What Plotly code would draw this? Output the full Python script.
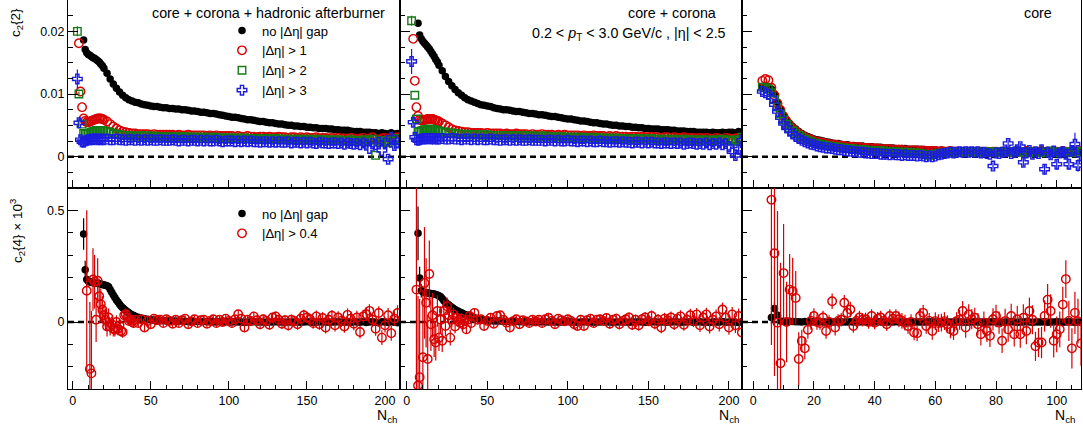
import plotly.graph_objects as go

W, H = 1083, 427
def px(x): return x / W
def py(y): return 1 - y / H

# ---------------- data ----------------
# N_ch bins: dense at low multiplicity, every 2nd bin above 20
N_top = list(range(3, 21)) + list(range(22, 209, 2))
N_core = list(range(3, 109))
N_bot = list(range(5, 41)) + list(range(42, 209, 2))
N_core4 = list(range(5, 109))

# ---- c2{2}: core + corona + hadronic afterburner ----
ab_nogap = [None, None, None, None, 0.0186, 0.0171, 0.0166, 0.0163, 0.0162, 0.0160, 0.0158, 0.0157, 0.0155, 0.0153, 0.0151, 0.0148, 0.0145, 0.0141,
            0.0133, 0.0124, 0.0116, 0.0109, 0.0103, 0.0098, 0.0094, 0.0091, 0.0089, 0.0087,
            0.0086, 0.0084, 0.0083, 0.0082, 0.0081, 0.0080, 0.0080, 0.0079, 0.0078, 0.0078,
            0.0077, 0.0077, 0.0076, 0.0076, 0.0075, 0.0075, 0.0074, 0.0073, 0.0073, 0.0072,
            0.0071, 0.0071, 0.0070, 0.0069, 0.0069, 0.0068, 0.0067, 0.0066, 0.0065, 0.0064,
            0.0063, 0.0063, 0.0062, 0.0061, 0.0060, 0.0059, 0.0059, 0.0058, 0.0057, 0.0056,
            0.0056, 0.0055, 0.0054, 0.0054, 0.0053, 0.0052, 0.0052, 0.0051, 0.0050, 0.0050,
            0.0049, 0.0049, 0.0048, 0.0048, 0.0047, 0.0047, 0.0046, 0.0046, 0.0045, 0.0045,
            0.0045, 0.0044, 0.0044, 0.0043, 0.0043, 0.0042, 0.0042, 0.0042, 0.0041, 0.0040,
            0.0040, 0.0040, 0.0039, 0.0039, 0.0039, 0.0038, 0.0038, 0.0037, 0.0038, 0.0037,
            0.0036, 0.0038, 0.0036, 0.0037]
ab_eta1 = [None, 0.0181, 0.0104, 0.0079, 0.0061, 0.0057, 0.0055, 0.0055, 0.0056, 0.0057, 0.0058, 0.0059, 0.0060, 0.0061, 0.0061, 0.0061, 0.0060, 0.0059,
           0.0056, 0.0052, 0.0048, 0.0045, 0.0042, 0.0040, 0.0039, 0.0038, 0.0037, 0.0037,
           0.0036, 0.0036, 0.0036, 0.0036, 0.0035, 0.0036, 0.0035, 0.0035, 0.0035, 0.0035,
           0.0035, 0.0035, 0.0034, 0.0035, 0.0034, 0.0034, 0.0035, 0.0034, 0.0034, 0.0034,
           0.0034, 0.0034, 0.0033, 0.0034, 0.0033, 0.0034, 0.0033, 0.0033, 0.0033, 0.0033,
           0.0033, 0.0032, 0.0033, 0.0032, 0.0032, 0.0033, 0.0032, 0.0032, 0.0031, 0.0032,
           0.0032, 0.0031, 0.0032, 0.0031, 0.0031, 0.0032, 0.0031, 0.0031, 0.0030, 0.0031,
           0.0031, 0.0030, 0.0031, 0.0030, 0.0031, 0.0030, 0.0030, 0.0031, 0.0029, 0.0030,
           0.0030, 0.0029, 0.0030, 0.0029, 0.0030, 0.0029, 0.0029, 0.0028, 0.0030, 0.0029,
           0.0028, 0.0029, 0.0030, 0.0027, 0.0029, 0.0031, 0.0028, 0.0027, 0.0029, 0.0030,
           0.0026, 0.0030, 0.0028, 0.0031]
ab_eta2 = [0.0200, 0.0100, None, 0.0052, 0.0037, 0.0036, 0.0036, 0.0037, 0.0038, 0.0039, 0.0040, 0.0041, 0.0042, 0.0042, 0.0042, 0.0042, 0.0041, 0.0041,
           0.0040, 0.0039, 0.0037, 0.0036, 0.0035, 0.0034, 0.0034, 0.0034, 0.0033, 0.0033,
           0.0033, 0.0033, 0.0033, 0.0033, 0.0032, 0.0033, 0.0032, 0.0032, 0.0032, 0.0032,
           0.0032, 0.0032, 0.0031, 0.0032, 0.0031, 0.0032, 0.0031, 0.0031, 0.0031, 0.0031,
           0.0031, 0.0031, 0.0030, 0.0031, 0.0030, 0.0031, 0.0030, 0.0030, 0.0030, 0.0030,
           0.0030, 0.0029, 0.0030, 0.0029, 0.0030, 0.0029, 0.0029, 0.0029, 0.0028, 0.0029,
           0.0029, 0.0028, 0.0029, 0.0028, 0.0029, 0.0028, 0.0028, 0.0028, 0.0027, 0.0028,
           0.0028, 0.0027, 0.0028, 0.0027, 0.0028, 0.0027, 0.0027, 0.0028, 0.0026, 0.0027,
           0.0027, 0.0026, 0.0027, 0.0026, 0.0027, 0.0026, 0.0026, 0.0025, 0.0027, 0.0026,
           0.0025, 0.0026, 0.0027, 0.0024, 0.0026, 0.0028, 0.0002, 0.0023, 0.0026, 0.0024,
           0.0022, 0.0027, 0.0025, 0.0029]
ab_eta3 = [0.0124, 0.0054, 0.0027, 0.0024, 0.0023, 0.0025, 0.0026, 0.0027, 0.0027, 0.0028, 0.0027, 0.0028, 0.0028, 0.0027, 0.0028, 0.0027, 0.0028, 0.0027,
           0.0028, 0.0027, 0.0027, 0.0028, 0.0027, 0.0027, 0.0026, 0.0027, 0.0027, 0.0026,
           0.0027, 0.0026, 0.0027, 0.0026, 0.0027, 0.0026, 0.0026, 0.0027, 0.0026, 0.0026,
           0.0026, 0.0027, 0.0026, 0.0025, 0.0026, 0.0026, 0.0025, 0.0026, 0.0026, 0.0025,
           0.0026, 0.0025, 0.0026, 0.0025, 0.0025, 0.0026, 0.0025, 0.0024, 0.0025, 0.0025,
           0.0025, 0.0024, 0.0025, 0.0024, 0.0025, 0.0024, 0.0025, 0.0024, 0.0024, 0.0023,
           0.0024, 0.0024, 0.0023, 0.0024, 0.0023, 0.0024, 0.0023, 0.0023, 0.0024, 0.0022,
           0.0023, 0.0023, 0.0022, 0.0023, 0.0022, 0.0023, 0.0022, 0.0021, 0.0023, 0.0022,
           0.0022, 0.0021, 0.0022, 0.0022, 0.0021, 0.0022, 0.0020, 0.0022, 0.0021, 0.0020,
           0.0021, 0.0019, 0.0022, 0.0020, 0.0013, 0.0021, 0.0019, 0.0023, 0.0010, 0.0022,
           -0.0004, 0.0031, 0.0018, 0.0022]
ab_eta2_err = {3: 0.0008, 4: 0.0004}
ab_eta3_err = {3: 0.0015, 4: 0.0006, 202: 0.0005, 204: 0.0005, 206: 0.0006}

# ---- c2{2}: core + corona ----
cc_nogap = [None, None, None, None, 0.0213, 0.0194, 0.0188, 0.0184, 0.0181, 0.0178, 0.0175, 0.0172, 0.0168, 0.0164, 0.0160, 0.0155, 0.0151, 0.0146,
            0.0137, 0.0128, 0.0120, 0.0113, 0.0107, 0.0102, 0.0098, 0.0094, 0.0091, 0.0089,
            0.0087, 0.0085, 0.0083, 0.0082, 0.0081, 0.0080, 0.0078, 0.0077, 0.0076, 0.0075,
            0.0075, 0.0074, 0.0073, 0.0072, 0.0072, 0.0071, 0.0070, 0.0069, 0.0069, 0.0068,
            0.0067, 0.0067, 0.0066, 0.0065, 0.0064, 0.0064, 0.0063, 0.0062, 0.0061, 0.0060,
            0.0060, 0.0059, 0.0058, 0.0057, 0.0057, 0.0056, 0.0055, 0.0054, 0.0054, 0.0053,
            0.0052, 0.0052, 0.0051, 0.0050, 0.0050, 0.0049, 0.0049, 0.0048, 0.0048, 0.0047,
            0.0047, 0.0046, 0.0046, 0.0045, 0.0045, 0.0044, 0.0044, 0.0044, 0.0043, 0.0043,
            0.0043, 0.0042, 0.0042, 0.0041, 0.0041, 0.0041, 0.0040, 0.0040, 0.0040, 0.0039,
            0.0039, 0.0039, 0.0039, 0.0038, 0.0039, 0.0038, 0.0038, 0.0039, 0.0038, 0.0039,
            0.0039, 0.0038, 0.0040, 0.0039]
cc_eta1 = [None, 0.0188, 0.0121, 0.0079, 0.0065, 0.0059, 0.0058, 0.0058, 0.0059, 0.0059, 0.0060, 0.0060, 0.0060, 0.0060, 0.0059, 0.0058, 0.0057, 0.0056,
           0.0053, 0.0050, 0.0047, 0.0044, 0.0042, 0.0041, 0.0040, 0.0039, 0.0039, 0.0038,
           0.0038, 0.0038, 0.0038, 0.0037, 0.0038, 0.0037, 0.0037, 0.0037, 0.0037, 0.0036,
           0.0037, 0.0036, 0.0036, 0.0037, 0.0036, 0.0036, 0.0036, 0.0035, 0.0036, 0.0035,
           0.0035, 0.0036, 0.0035, 0.0035, 0.0035, 0.0034, 0.0035, 0.0034, 0.0035, 0.0034,
           0.0034, 0.0034, 0.0034, 0.0033, 0.0034, 0.0033, 0.0033, 0.0034, 0.0033, 0.0033,
           0.0033, 0.0032, 0.0033, 0.0032, 0.0033, 0.0032, 0.0032, 0.0032, 0.0031, 0.0032,
           0.0032, 0.0031, 0.0032, 0.0031, 0.0031, 0.0032, 0.0031, 0.0031, 0.0030, 0.0031,
           0.0031, 0.0030, 0.0031, 0.0030, 0.0030, 0.0031, 0.0029, 0.0030, 0.0030, 0.0029,
           0.0030, 0.0029, 0.0030, 0.0029, 0.0028, 0.0030, 0.0029, 0.0028, 0.0030, 0.0029,
           0.0028, 0.0029, 0.0030, 0.0027]
cc_eta2 = [0.0217, None, 0.0098, 0.0060, 0.0040, 0.0040, 0.0041, 0.0042, 0.0043, 0.0043, 0.0044, 0.0044, 0.0044, 0.0043, 0.0043, 0.0042, 0.0042, 0.0041,
           0.0040, 0.0039, 0.0038, 0.0038, 0.0037, 0.0036, 0.0036, 0.0036, 0.0035, 0.0035,
           0.0035, 0.0035, 0.0035, 0.0034, 0.0035, 0.0034, 0.0034, 0.0034, 0.0034, 0.0034,
           0.0034, 0.0033, 0.0034, 0.0033, 0.0033, 0.0034, 0.0033, 0.0033, 0.0033, 0.0032,
           0.0033, 0.0032, 0.0033, 0.0032, 0.0032, 0.0032, 0.0031, 0.0032, 0.0031, 0.0031,
           0.0031, 0.0031, 0.0031, 0.0030, 0.0031, 0.0030, 0.0030, 0.0031, 0.0030, 0.0030,
           0.0030, 0.0029, 0.0030, 0.0029, 0.0030, 0.0029, 0.0029, 0.0029, 0.0028, 0.0029,
           0.0029, 0.0028, 0.0029, 0.0028, 0.0028, 0.0029, 0.0028, 0.0028, 0.0027, 0.0028,
           0.0028, 0.0027, 0.0028, 0.0027, 0.0027, 0.0028, 0.0026, 0.0027, 0.0027, 0.0026,
           0.0027, 0.0026, 0.0027, 0.0026, 0.0025, 0.0027, 0.0026, 0.0028, 0.0027, 0.0026,
           0.0025, 0.0027, 0.0024, 0.0031]
cc_eta3 = [0.0152, 0.0055, 0.0031, 0.0027, 0.0026, 0.0027, 0.0028, 0.0028, 0.0029, 0.0028, 0.0029, 0.0029, 0.0028, 0.0029, 0.0028, 0.0029, 0.0028, 0.0028,
           0.0029, 0.0028, 0.0028, 0.0029, 0.0028, 0.0028, 0.0027, 0.0028, 0.0028, 0.0027,
           0.0028, 0.0027, 0.0028, 0.0027, 0.0027, 0.0028, 0.0027, 0.0027, 0.0026, 0.0027,
           0.0027, 0.0026, 0.0027, 0.0026, 0.0027, 0.0026, 0.0026, 0.0027, 0.0026, 0.0026,
           0.0026, 0.0026, 0.0025, 0.0026, 0.0026, 0.0025, 0.0026, 0.0025, 0.0025, 0.0026,
           0.0025, 0.0025, 0.0024, 0.0025, 0.0025, 0.0024, 0.0025, 0.0024, 0.0024, 0.0025,
           0.0024, 0.0024, 0.0023, 0.0024, 0.0024, 0.0023, 0.0024, 0.0023, 0.0023, 0.0022,
           0.0023, 0.0023, 0.0022, 0.0023, 0.0022, 0.0023, 0.0022, 0.0022, 0.0021, 0.0022,
           0.0022, 0.0021, 0.0022, 0.0021, 0.0022, 0.0020, 0.0021, 0.0022, 0.0021, 0.0020,
           0.0021, 0.0020, 0.0022, 0.0019, 0.0021, 0.0020, 0.0022, 0.0019, 0.0021, 0.0016,
           0.0008, 0.0002, 0.0012, 0.0026]
cc_eta2_err = {3: 0.0008}
cc_eta3_err = {3: 0.0020, 4: 0.0007, 204: 0.0006, 206: 0.0006}

# ---- c2{2}: core ----
co_nogap = [0.0112, 0.0113, 0.0112, 0.0108, 0.0100, 0.0087, 0.0076, 0.0066, 0.0059, 0.0053,
            0.0048, 0.0044, 0.0040, 0.0037, 0.0034, 0.0032, 0.0030, 0.0028, 0.0027, 0.0026,
            0.0025, 0.0024, 0.0023, 0.0022, 0.0021, 0.0021, 0.0020, 0.0019, 0.0019, 0.0018,
            0.0018, 0.0017, 0.0017, 0.0017, 0.0016, 0.0016, 0.0016, 0.0015, 0.0015, 0.0015,
            0.0014, 0.0014, 0.0014, 0.0014, 0.0013, 0.0013, 0.0013, 0.0013, 0.0012, 0.0012,
            0.0012, 0.0012, 0.0012, 0.0011, 0.0011, 0.0011, 0.0011, 0.0011, 0.0010, 0.0010,
            0.0010, 0.0010, 0.0010, 0.0010, 0.0009, 0.0010, 0.0009, 0.0009, 0.0009, 0.0009,
            0.0009, 0.0009, 0.0009, 0.0008, 0.0009, 0.0008, 0.0009, 0.0008, 0.0008, 0.0009,
            0.0008, 0.0009, 0.0008, 0.0008, 0.0009, 0.0008, 0.0009, 0.0008, 0.0009, 0.0008,
            0.0009, 0.0008, 0.0009, 0.0008, 0.0009, 0.0009, 0.0008, 0.0009, 0.0008, 0.0009,
            0.0009, 0.0008, 0.0010, 0.0008, 0.0009, 0.0008]
co_eta1 = [0.0121, 0.0124, 0.0122, 0.0110, 0.0098, 0.0085, 0.0074, 0.0064, 0.0056, 0.0050,
           0.0045, 0.0041, 0.0037, 0.0034, 0.0031, 0.0029, 0.0027, 0.0025, 0.0024, 0.0023,
           0.0022, 0.0021, 0.0020, 0.0019, 0.0019, 0.0018, 0.0017, 0.0017, 0.0016, 0.0016,
           0.0015, 0.0015, 0.0015, 0.0014, 0.0014, 0.0014, 0.0013, 0.0013, 0.0013, 0.0012,
           0.0012, 0.0012, 0.0012, 0.0011, 0.0011, 0.0011, 0.0011, 0.0010, 0.0010, 0.0010,
           0.0010, 0.0010, 0.0009, 0.0010, 0.0009, 0.0009, 0.0009, 0.0009, 0.0008, 0.0009,
           0.0008, 0.0008, 0.0009, 0.0008, 0.0008, 0.0008, 0.0007, 0.0008, 0.0008, 0.0008,
           0.0007, 0.0008, 0.0008, 0.0007, 0.0008, 0.0007, 0.0008, 0.0008, 0.0007, 0.0008,
           0.0007, 0.0008, 0.0007, 0.0008, 0.0007, 0.0008, 0.0007, 0.0009, 0.0007, 0.0008,
           0.0007, 0.0008, 0.0009, 0.0007, 0.0008, 0.0007, 0.0009, 0.0008, 0.0007, 0.0009,
           0.0008, 0.0007, 0.0009, 0.0008, 0.0007, 0.0009]
co_eta2 = [0.0111, 0.0110, 0.0108, 0.0102, 0.0091, 0.0079, 0.0068, 0.0059, 0.0052, 0.0046,
           0.0041, 0.0037, 0.0034, 0.0031, 0.0028, 0.0026, 0.0024, 0.0022, 0.0021, 0.0020,
           0.0019, 0.0018, 0.0017, 0.0016, 0.0016, 0.0015, 0.0014, 0.0014, 0.0013, 0.0013,
           0.0012, 0.0012, 0.0011, 0.0011, 0.0011, 0.0010, 0.0010, 0.0010, 0.0009, 0.0009,
           0.0009, 0.0008, 0.0008, 0.0008, 0.0008, 0.0007, 0.0007, 0.0007, 0.0007, 0.0006,
           0.0006, 0.0006, 0.0005, 0.0004, 0.0003, 0.0002, 0.0003, 0.0004, 0.0005, 0.0006,
           0.0006, 0.0007, 0.0007, 0.0007, 0.0008, 0.0007, 0.0008, 0.0008, 0.0007, 0.0008,
           0.0008, 0.0007, 0.0008, 0.0007, 0.0008, 0.0007, 0.0008, 0.0007, 0.0008, 0.0007,
           0.0008, 0.0007, 0.0008, 0.0007, 0.0009, 0.0007, 0.0008, 0.0007, 0.0008, 0.0006,
           0.0008, 0.0007, 0.0006, 0.0008, 0.0007, 0.0009, 0.0007, 0.0008, 0.0006, 0.0008,
           0.0007, 0.0008, 0.0006, 0.0009, 0.0007, 0.0008]
co_eta3 = [0.0104, 0.0102, 0.0100, 0.0094, 0.0083, 0.0072, 0.0062, 0.0053, 0.0046, 0.0041,
           0.0036, 0.0032, 0.0029, 0.0026, 0.0024, 0.0022, 0.0020, 0.0019, 0.0017, 0.0016,
           0.0015, 0.0014, 0.0014, 0.0013, 0.0012, 0.0011, 0.0011, 0.0010, 0.0009, 0.0009,
           0.0008, 0.0008, 0.0007, 0.0007, 0.0006, 0.0006, 0.0005, 0.0005, 0.0005, 0.0004,
           0.0004, 0.0004, 0.0003, 0.0004, 0.0003, 0.0003, 0.0002, 0.0003, 0.0002, 0.0002,
           0.0002, 0.0001, 0.0002, 0.0001, 0.0000, 0.0001, 0.0000, 0.0001, 0.0003, 0.0004,
           0.0005, 0.0006, 0.0007, 0.0006, 0.0007, 0.0008, 0.0007, 0.0008, 0.0007, 0.0008,
           0.0007, 0.0008, 0.0006, 0.0007, 0.0005, 0.0004, -0.0015, 0.0006, 0.0005, 0.0007,
           0.0008, 0.0021, 0.0005, 0.0007, 0.0009, 0.0016, -0.0009, 0.0006, 0.0010, 0.0004,
           0.0008, 0.0005, 0.0011, -0.0020, 0.0007, 0.0003, 0.0009, -0.0012, 0.0006, 0.0008,
           0.0004, -0.0012, 0.0009, 0.0020, -0.0014, 0.0002]
co_eta3_err = {78: 0.0005, 79: 0.0006, 84: 0.0006, 86: 0.0005, 88: 0.0006, 89: 0.0007, 91: 0.0006,
               93: 0.0006, 95: 0.0007, 96: 0.0008, 98: 0.0007, 100: 0.0008, 101: 0.0007, 102: 0.0008,
               103: 0.0008, 104: 0.0009, 105: 0.0009, 106: 0.0018, 107: 0.0010, 108: 0.0010}

# ---- c2{4} x 10^3: core + corona + hadronic afterburner ----
ab4_nogap = [None, None, 0.394, 0.234, 0.190, 0.183, 0.180, 0.178, 0.176, 0.175, 0.173, 0.172, 0.171, 0.170, 0.168, 0.166,
             0.164, 0.162, 0.158, 0.146, 0.133, 0.121, 0.110, 0.099, 0.089, 0.080, 0.071, 0.064, 0.057, 0.051, 0.046, 0.041,
             0.036, 0.032, 0.029, 0.026,
             0.021, 0.017, 0.014, 0.012, 0.010, 0.009, 0.008, 0.007, 0.006, 0.005,
             0.005, 0.004, 0.004, 0.003, 0.003, 0.003, 0.002, 0.002, 0.002, 0.002,
             0.001, 0.002, 0.001, 0.001, 0.001, 0.000, 0.001, 0.000, 0.001, 0.000,
             0.000, 0.001, 0.000, 0.000, -0.001, 0.000, 0.000, 0.001, 0.000, 0.000,
             0.000, -0.001, 0.000, 0.000, 0.001, 0.000, 0.000, -0.001, 0.000, 0.000,
             0.000, 0.000, -0.001, 0.000, 0.001, 0.000, -0.001, 0.000, 0.000, 0.001,
             0.000, -0.001, 0.000, 0.000, 0.001, -0.001, 0.000, 0.000, -0.002, 0.001,
             0.000, -0.001, 0.001, -0.002, 0.000, 0.001, -0.001, -0.003, 0.001, 0.000,
             -0.002, 0.001, -0.001, -0.003]
ab4_nogap_err = {7: 0.07, 8: 0.04, 9: 0.03, 10: 0.02, 11: 0.02}
ab4_eta04 = [None, None, None, None, 0.140, None, -0.210, -0.230, 0.190, 0.180, 0.010, 0.185, 0.115, 0.080, 0.055, 0.030,
             0.010, -0.020, 0.020, -0.020, -0.010, -0.030, -0.035, 0.000, -0.030, -0.015, -0.040, -0.045, 0.030, 0.035, 0.020, 0.005,
             0.010, 0.000, -0.005, 0.010,
             -0.005, 0.012, -0.025, 0.005, -0.010, 0.015, 0.008, 0.010, -0.005, 0.012,
             0.005, -0.008, 0.010, -0.005, 0.008, 0.015, -0.010, 0.003, 0.012, -0.005,
             0.008, 0.010, -0.008, 0.005, 0.012, -0.005, 0.010, 0.000, 0.015, 0.005,
             -0.005, 0.012, 0.035, 0.015, -0.025, 0.010, 0.005, 0.025, 0.008, -0.010,
             0.012, 0.005, -0.012, 0.020, 0.025, 0.010, -0.008, 0.008, -0.015, 0.010,
             0.005, -0.010, 0.015, 0.030, 0.020, 0.012, -0.005, 0.025, -0.010, 0.018,
             -0.025, 0.010, 0.028, -0.015, 0.020, 0.005, -0.020, 0.032, 0.015, -0.008,
             0.020, -0.045, 0.025, 0.035, 0.050, 0.010, -0.030, 0.040, -0.070, -0.015,
             0.030, -0.050, 0.015, 0.040]
ab4_eta04_err = [0, 0, 0, 0, 0.36, 0, 0.30, 0.28, 0.14, 0.12, 0.10, 0.10, 0.08, 0.07, 0.06, 0.05,
                 0.05, 0.045, 0.04, 0.04, 0.035, 0.035, 0.03, 0.03, 0.03, 0.03, 0.025, 0.025, 0.025, 0.025, 0.02, 0.02,
                 0.02, 0.02, 0.02, 0.02,
                 0.018, 0.018, 0.017, 0.018, 0.017, 0.018, 0.017, 0.017, 0.018, 0.017,
                 0.017, 0.018, 0.017, 0.018, 0.018, 0.017, 0.018, 0.018, 0.019, 0.018,
                 0.018, 0.019, 0.018, 0.019, 0.019, 0.018, 0.019, 0.020, 0.019, 0.020,
                 0.020, 0.019, 0.020, 0.021, 0.020, 0.021, 0.020, 0.021, 0.021, 0.022,
                 0.021, 0.022, 0.022, 0.021, 0.022, 0.023, 0.022, 0.023, 0.023, 0.024,
                 0.023, 0.024, 0.024, 0.025, 0.024, 0.025, 0.025, 0.026, 0.025, 0.026,
                 0.026, 0.027, 0.026, 0.027, 0.028, 0.027, 0.028, 0.029, 0.028, 0.029,
                 0.030, 0.029, 0.030, 0.031, 0.030, 0.031, 0.032, 0.031, 0.033, 0.032,
                 0.033, 0.034, 0.033, 0.035]

# ---- c2{4} x 10^3: core + corona ----
cc4_nogap = [None, None, 0.397, 0.197, 0.140, 0.135, 0.133, 0.131, 0.130, 0.129, 0.128, 0.127, 0.125, 0.123, 0.121, 0.118,
             0.113, 0.105, 0.095, 0.088, 0.082, 0.077, 0.071, 0.066, 0.060, 0.056, 0.052, 0.048, 0.044, 0.041, 0.037, 0.034,
             0.031, 0.029, 0.027, 0.024,
             0.019, 0.014, 0.011, 0.009, 0.007, 0.006, 0.005, 0.004, 0.004, 0.003,
             0.003, 0.002, 0.002, 0.002, 0.001, 0.001, 0.001, 0.001, 0.000, 0.001,
             0.000, 0.001, 0.000, 0.000, 0.001, 0.000, -0.001, 0.000, 0.000, 0.001,
             0.000, 0.000, -0.001, 0.000, 0.001, 0.000, 0.000, -0.001, 0.000, 0.000,
             0.001, 0.000, 0.000, -0.001, 0.000, 0.000, 0.001, 0.000, -0.001, 0.000,
             0.000, 0.001, 0.000, -0.001, 0.000, 0.000, 0.001, -0.001, 0.000, 0.000,
             -0.001, 0.000, 0.001, 0.000, -0.001, 0.000, 0.000, 0.001, -0.001, 0.000,
             0.001, -0.001, 0.000, -0.002, 0.001, 0.000, -0.001, 0.002, -0.001, 0.000,
             -0.001, 0.000, -0.002, 0.001]
cc4_nogap_err = {7: 0.12, 8: 0.05, 9: 0.03, 10: 0.02}
cc4_eta04 = [None, 0.145, -0.284, -0.247, None, -0.158, 0.175, 0.086, -0.166, 0.215, -0.010, 0.030, -0.077, -0.092, 0.049, -0.070,
             0.010, -0.084, 0.049, -0.018, 0.071, 0.030, -0.070, 0.010, 0.034, -0.020, 0.019, 0.005, -0.003, 0.015, -0.010, 0.005,
             -0.033, 0.010, 0.027, -0.005,
             0.041, 0.010, 0.012, -0.018, 0.005, 0.019, -0.008, 0.027, 0.030, 0.010,
             -0.003, -0.025, 0.004, 0.012, -0.010, 0.008, 0.003, -0.005, 0.010, 0.002,
             0.010, -0.005, 0.012, 0.019, 0.005, -0.010, 0.015, 0.008, 0.003, 0.012,
             0.005, -0.010, -0.018, 0.010, -0.018, 0.008, 0.015, -0.005, 0.010, 0.012,
             0.005, 0.018, -0.008, 0.010, 0.015, -0.010, 0.005, 0.012, 0.020, -0.012,
             0.010, -0.015, 0.012, 0.020, 0.005, 0.027, -0.008, 0.010, -0.025, 0.015,
             0.008, 0.020, -0.010, 0.015, 0.025, -0.012, 0.010, 0.030, 0.005, 0.034,
             -0.015, 0.020, 0.034, -0.020, 0.010, 0.025, -0.010, 0.056, 0.020, -0.025,
             0.034, -0.015, 0.027, -0.047]
cc4_eta04_err = [0, 0.60, 0.40, 0.35, 0, 0.30, 0.25, 0.20, 0.20, 0.15, 0.12, 0.10, 0.08, 0.08, 0.07, 0.06,
                 0.06, 0.05, 0.05, 0.045, 0.04, 0.04, 0.035, 0.035, 0.03, 0.03, 0.025, 0.025, 0.025, 0.025, 0.025, 0.02,
                 0.02, 0.02, 0.02, 0.02,
                 0.018, 0.018, 0.017, 0.018, 0.017, 0.018, 0.017, 0.017, 0.018, 0.017,
                 0.017, 0.018, 0.017, 0.018, 0.018, 0.017, 0.018, 0.018, 0.019, 0.018,
                 0.018, 0.019, 0.018, 0.019, 0.019, 0.018, 0.019, 0.020, 0.019, 0.020,
                 0.020, 0.019, 0.020, 0.021, 0.020, 0.021, 0.020, 0.021, 0.021, 0.022,
                 0.021, 0.022, 0.022, 0.021, 0.022, 0.023, 0.022, 0.023, 0.023, 0.024,
                 0.023, 0.024, 0.024, 0.025, 0.024, 0.025, 0.025, 0.026, 0.025, 0.026,
                 0.026, 0.027, 0.026, 0.027, 0.028, 0.027, 0.028, 0.029, 0.028, 0.029,
                 0.030, 0.029, 0.030, 0.031, 0.030, 0.031, 0.032, 0.031, 0.033, 0.032,
                 0.033, 0.034, 0.033, 0.035]

# ---- c2{4} x 10^3: core ----
co4_nogap = [None, 0.020, 0.060, 0.030, 0.005, 0.002, 0.000, 0.003, 0.002, 0.001,
             0.001, 0.000, 0.002, 0.001, 0.000, 0.001, 0.000, 0.001, 0.000, 0.000,
             0.001, 0.000, 0.000, 0.001, 0.000, 0.000, 0.000, 0.001, 0.000, 0.000,
             0.000, 0.001, 0.000, 0.000, 0.000, 0.000, 0.001, 0.000, 0.000, 0.000,
             0.000, 0.000, 0.001, 0.000, 0.000, 0.000, 0.000, -0.001, 0.000, 0.000,
             0.000, 0.000, 0.000, 0.001, 0.000, 0.000, -0.001, 0.000, 0.000, 0.000,
             0.000, 0.000, 0.001, 0.000, 0.000, -0.001, 0.000, 0.000, 0.001, 0.000,
             0.000, -0.001, 0.000, 0.000, 0.001, 0.000, 0.000, -0.001, 0.000, 0.000,
             0.001, 0.000, -0.001, 0.000, 0.000, 0.001, 0.000, -0.001, 0.000, 0.000,
             0.000, 0.001, -0.001, 0.000, 0.000, 0.001, 0.000, -0.001, 0.000, 0.001,
             0.000, -0.001, 0.000, 0.000]
co4_nogap_err = {6: 0.03, 7: 0.03, 8: 0.02}
co4_eta04 = [None, 0.547, 0.308, -0.003, -0.185, 0.219, 0.000, 0.145, 0.138, 0.108,
             -0.166, -0.085, -0.118, -0.035, 0.005, 0.027, 0.000, -0.005, 0.020, -0.040,
             0.000, 0.093, -0.025, 0.005, 0.010, 0.086, 0.040, 0.056, -0.018, 0.005,
             0.020, 0.010, 0.012, 0.000, 0.027, -0.003, 0.015, 0.020, 0.005, -0.010,
             0.027, 0.015, 0.027, 0.012, 0.005, -0.003, -0.018, 0.000, -0.047, -0.050,
             0.027, 0.041, -0.018, 0.005, -0.040, 0.004, -0.005, -0.003, 0.004, -0.010,
             -0.033, -0.040, 0.004, 0.010, 0.049, -0.025, 0.034, 0.012, 0.019, -0.010,
             -0.055, -0.003, -0.040, -0.062, 0.012, 0.027, -0.003, -0.084, 0.004, -0.033,
             0.027, -0.055, 0.012, -0.055, 0.019, -0.040, 0.049, 0.010, -0.109, -0.092,
             -0.092, 0.027, 0.100, 0.049, -0.084, -0.055, -0.033, 0.078, 0.192, 0.005,
             -0.118, 0.041, 0.004, -0.096]
co4_eta04_err = [0, 0.65, 0.55, 0.50, 0.45, 0.22, 0.18, 0.16, 0.15, 0.12,
                 0.12, 0.05, 0.05, 0.04, 0.04, 0.035, 0.035, 0.03, 0.03, 0.035,
                 0.03, 0.035, 0.035, 0.03, 0.03, 0.035, 0.035, 0.035, 0.03, 0.03,
                 0.03, 0.03, 0.03, 0.03, 0.03, 0.03, 0.03, 0.03, 0.03, 0.03,
                 0.03, 0.03, 0.03, 0.035, 0.035, 0.035, 0.035, 0.035, 0.035, 0.035,
                 0.035, 0.035, 0.035, 0.035, 0.04, 0.04, 0.04, 0.04, 0.04, 0.04,
                 0.04, 0.04, 0.04, 0.045, 0.045, 0.045, 0.045, 0.045, 0.045, 0.05,
                 0.05, 0.05, 0.05, 0.05, 0.05, 0.05, 0.05, 0.055, 0.055, 0.055,
                 0.055, 0.055, 0.06, 0.06, 0.06, 0.06, 0.06, 0.065, 0.065, 0.065,
                 0.07, 0.07, 0.07, 0.075, 0.075, 0.08, 0.08, 0.08, 0.085, 0.09,
                 0.09, 0.095, 0.10, 0.10]

# ---------------- styling ----------------
FONT = "Liberation Sans, Arial, Helvetica, sans-serif"
BLACK, RED, GREEN, BLUE = "#000000", "#d80000", "#157a15", "#1c1ce0"

STY = {
    'nogap': dict(symbol='circle', size=7.5, color=BLACK, line=dict(width=0)),
    'eta1': dict(symbol='circle-open', size=8.5, color=RED, line=dict(width=1.4, color=RED)),
    'eta2': dict(symbol='square-open', size=7.5, color=GREEN, line=dict(width=1.4, color=GREEN)),
    'eta3': dict(symbol='cross-open', size=8, color=BLUE, line=dict(width=1.4, color=BLUE)),
}

def err_from(N, d):
    return [d.get(n, 0) for n in N]

fig = go.Figure()

def add(N, y, key, ax, name, err=None, show=False, legend='legend'):
    m = STY[key]
    col = m['color']
    e = dict(type='data', array=err if err is not None else [0] * len(N), visible=True,
             thickness=1.2, width=0, color=col)
    fig.add_trace(go.Scatter(x=N, y=y, mode='markers', marker=m, error_y=e,
                             xaxis='x' + ('' if ax == 1 else str(ax)),
                             yaxis='y' + ('' if ax == 1 else str(ax)),
                             name=name, showlegend=show, legend=legend, cliponaxis=True))

# top panels
L1, L2, L3, L4 = "no |Δη| gap", "|Δη| > 1", "|Δη| > 2", "|Δη| > 3"
add(N_top, ab_nogap, 'nogap', 1, L1, show=True)
add(N_top, ab_eta1, 'eta1', 1, L2, show=True)
add(N_top, ab_eta2, 'eta2', 1, L3, err_from(N_top, ab_eta2_err), show=True)
add(N_top, ab_eta3, 'eta3', 1, L4, err_from(N_top, ab_eta3_err), show=True)

add(N_top, cc_nogap, 'nogap', 2, L1)
add(N_top, cc_eta1, 'eta1', 2, L2)
add(N_top, cc_eta2, 'eta2', 2, L3, err_from(N_top, cc_eta2_err))
add(N_top, cc_eta3, 'eta3', 2, L4, err_from(N_top, cc_eta3_err))

add(N_core, co_nogap, 'nogap', 3, L1)
add(N_core, co_eta1, 'eta1', 3, L2)
add(N_core, co_eta2, 'eta2', 3, L3)
add(N_core, co_eta3, 'eta3', 3, L4, err_from(N_core, co_eta3_err))

# bottom panels
B1, B2 = "no |Δη| gap", "|Δη| > 0.4"
add(N_bot, ab4_nogap, 'nogap', 4, B1, err_from(N_bot, ab4_nogap_err), show=True, legend='legend2')
add(N_bot, ab4_eta04, 'eta1', 4, B2, ab4_eta04_err, show=True, legend='legend2')
add(N_bot, cc4_nogap, 'nogap', 5, B1, err_from(N_bot, cc4_nogap_err))
add(N_bot, cc4_eta04, 'eta1', 5, B2, cc4_eta04_err)
add(N_core4, co4_nogap, 'nogap', 6, B1, err_from(N_core4, co4_nogap_err))
add(N_core4, co4_eta04, 'eta1', 6, B2, co4_eta04_err)

# ---------------- axes ----------------
XDOM = [[px(68), px(400)], [px(400), px(742)], [px(742), px(1081)]]
XRNG = [[-3, 209.6], [-4.2, 208.1], [-3.7, 108.0]]
XDT = [(50, 10), (50, 10), (20, 5)]
YDOM_TOP = [py(188), 1.0]
YDOM_BOT = [py(389), py(188)]
TICKFONT = dict(family=FONT, size=12.5, color='black')

lay = {}
for i in range(6):
    col = i % 3
    top = i < 3
    k = '' if i == 0 else str(i + 1)
    lay['xaxis' + k] = dict(
        domain=XDOM[col], range=XRNG[col], anchor='y' + k, automargin=False,
        showgrid=False, zeroline=False, showline=True, linecolor='black', linewidth=1,
        mirror=(not top), ticks='inside', ticklen=8, tickwidth=1, tickcolor='black',
        tick0=0, dtick=XDT[col][0], showticklabels=(not top), tickfont=TICKFONT,
        minor=dict(ticks='inside', ticklen=4, tick0=0, dtick=XDT[col][1], tickcolor='black', tickwidth=1, showgrid=False),
    )
    lay['yaxis' + k] = dict(
        domain=YDOM_TOP if top else YDOM_BOT, automargin=False,
        range=[-0.005, 0.025] if top else [-0.3, 0.6], anchor='x' + k,
        showgrid=False, zeroline=False, showline=True, linecolor='black', linewidth=1,
        mirror=True, ticks='inside', ticklen=10, tickwidth=1, tickcolor='black',
        tick0=0, dtick=0.01 if top else 0.5, showticklabels=(col == 0), tickfont=TICKFONT,
        minor=dict(ticks='inside', ticklen=5, tick0=0, dtick=0.0025 if top else 0.1, tickcolor='black', tickwidth=1, showgrid=False),
    )

shapes = []
for i in range(6):
    k = '' if i == 0 else str(i + 1)
    shapes.append(dict(type='line', xref='x' + k + ' domain', x0=0, x1=1, yref='y' + k, y0=0, y1=0,
                       line=dict(color='black', width=2.5, dash='6px,4px'), layer='below'))

def ann(text, x, y, xanchor='center', size=14.3, angle=0):
    return dict(text=text, x=px(x), y=py(y), xref='paper', yref='paper', showarrow=False,
                xanchor=xanchor, yanchor='middle', textangle=angle,
                font=dict(family=FONT, size=size, color='black'))

annotations = [
    ann("core + corona + hadronic afterburner", 387, 13, 'right'),
    ann("core + corona", 718, 13, 'right'),
    ann("0.2 &lt; <i>p</i><sub>T</sub> &lt; 3.0 GeV/c , |η| &lt; 2.5", 728, 34, 'right'),
    ann("core", 1054, 13, 'right'),
    ann("c<sub>2</sub>{2}", 17, 23, 'center', 13.5, -90),
    ann("c<sub>2</sub>{4} × 10<sup>3</sup>", 17, 231, 'center', 13.5, -90),
    ann("N<sub>ch</sub>", 387, 416, 'center', 14),
    ann("N<sub>ch</sub>", 729, 416, 'center', 14),
    ann("N<sub>ch</sub>", 1065, 416, 'center', 14),
]

fig.update_layout(
    width=W, height=H, margin=dict(l=0, r=0, t=0, b=0, autoexpand=False),
    paper_bgcolor='white', plot_bgcolor='white',
    font=dict(family=FONT, size=13, color='black'),
    shapes=shapes, annotations=annotations,
    legend=dict(x=px(222), y=py(15.5), xanchor='left', yanchor='top', bgcolor='rgba(0,0,0,0)',
                font=dict(family=FONT, size=13, color='black'), tracegroupgap=0, itemwidth=30),
    legend2=dict(x=px(222), y=py(198.5), xanchor='left', yanchor='top', bgcolor='rgba(0,0,0,0)',
                 font=dict(family=FONT, size=13, color='black'), tracegroupgap=0, itemwidth=30),
    **lay,
)

# the page body gets no default margin, so the figure sits at the window origin
fig.write_html("out.html", config={'displayModeBar': False},
               post_script="document.body.style.margin='0';document.body.style.padding='0';document.body.style.overflow='hidden';")
